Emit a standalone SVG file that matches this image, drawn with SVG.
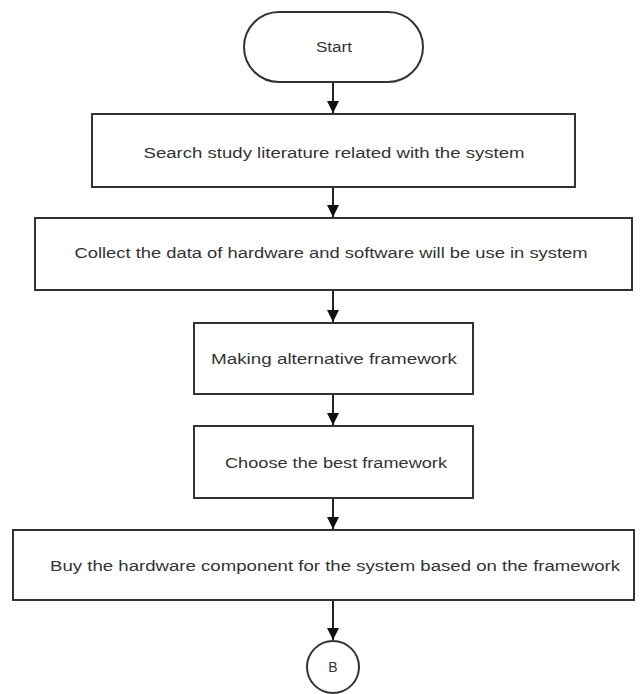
<svg xmlns="http://www.w3.org/2000/svg" width="643" height="694" viewBox="0 0 643 694">
  <style>
    .shape { fill: #ffffff; stroke: #333333; stroke-width: 2; }
    .lbl { font-family: "Liberation Sans", Arial, sans-serif; font-size: 14px; fill: #333333; text-anchor: middle; }
    .conn { stroke: #222222; stroke-width: 2; fill: none; marker-end: url(#arrow); }
  </style>
  <defs>
    <marker id="arrow" markerUnits="userSpaceOnUse" markerWidth="12" markerHeight="12" refX="12" refY="6" orient="auto">
      <path d="M0,0 L12,6 L0,12 z" fill="#111111"/>
    </marker>
  </defs>
  <rect width="643" height="694" fill="#ffffff"/>

  <g id="connectors">
    <line class="conn" x1="333" y1="82" x2="333" y2="113"/>
    <line class="conn" x1="333" y1="187" x2="333" y2="217"/>
    <line class="conn" x1="333" y1="290" x2="333" y2="322"/>
    <line class="conn" x1="333" y1="394" x2="333" y2="425"/>
    <line class="conn" x1="333" y1="498" x2="333" y2="529"/>
    <line class="conn" x1="333" y1="600" x2="333" y2="640"/>
  </g>

  <g id="start">
    <rect class="shape" x="244" y="12" width="179" height="70" rx="35" ry="35"/>
    <text class="lbl" x="334" y="52" textLength="36" lengthAdjust="spacingAndGlyphs">Start</text>
  </g>

  <g id="search">
    <rect class="shape" x="92" y="114" width="483" height="73"/>
    <text class="lbl" x="334" y="158" textLength="381" lengthAdjust="spacingAndGlyphs">Search study literature related with the system</text>
  </g>

  <g id="collect">
    <rect class="shape" x="35" y="218" width="597" height="72"/>
    <text class="lbl" x="331" y="258" textLength="513" lengthAdjust="spacingAndGlyphs">Collect the data of hardware and software will be use in system</text>
  </g>

  <g id="alternative">
    <rect class="shape" x="194" y="323" width="279" height="71"/>
    <text class="lbl" x="334" y="364" textLength="246" lengthAdjust="spacingAndGlyphs">Making alternative framework</text>
  </g>

  <g id="choose">
    <rect class="shape" x="194" y="426" width="279" height="72"/>
    <text class="lbl" x="336" y="468" textLength="222" lengthAdjust="spacingAndGlyphs">Choose the best framework</text>
  </g>

  <g id="buy">
    <rect class="shape" x="13" y="530" width="621" height="70"/>
    <text class="lbl" x="335" y="571" textLength="570" lengthAdjust="spacingAndGlyphs">Buy the hardware component for the system based on the framework</text>
  </g>

  <g id="connector-b">
    <circle class="shape" cx="333" cy="667" r="26"/>
    <text class="lbl" x="333" y="672">B</text>
  </g>
</svg>
